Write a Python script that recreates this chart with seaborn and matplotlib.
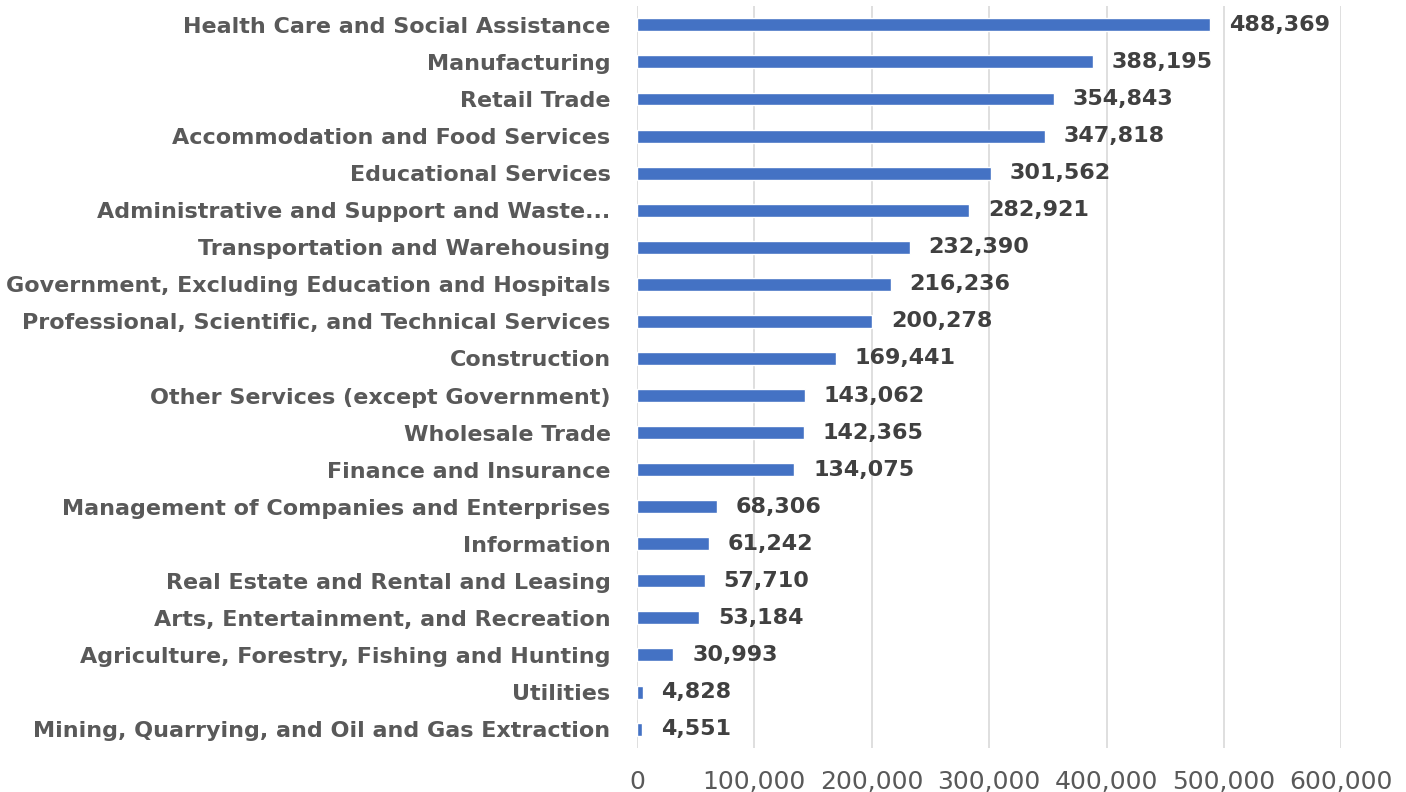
import pandas as pd
import seaborn as sns
import matplotlib.pyplot as plt
from matplotlib.ticker import FuncFormatter

# industries, largest first (top of chart)
industries = [
    "Health Care and Social Assistance",
    "Manufacturing",
    "Retail Trade",
    "Accommodation and Food Services",
    "Educational Services",
    "Administrative and Support and Waste...",
    "Transportation and Warehousing",
    "Government, Excluding Education and Hospitals",
    "Professional, Scientific, and Technical Services",
    "Construction",
    "Other Services (except Government)",
    "Wholesale Trade",
    "Finance and Insurance",
    "Management of Companies and Enterprises",
    "Information",
    "Real Estate and Rental and Leasing",
    "Arts, Entertainment, and Recreation",
    "Agriculture, Forestry, Fishing and Hunting",
    "Utilities",
    "Mining, Quarrying, and Oil and Gas Extraction",
]
employees = [488369, 388195, 354843, 347818, 301562, 282921, 232390, 216236,
             200278, 169441, 143062, 142365, 134075, 68306, 61242, 57710,
             53184, 30993, 4828, 4551]
x_ticks = [0, 100000, 200000, 300000, 400000, 500000, 600000]

df = pd.DataFrame({"industry": industries, "employees": employees})

sns.set_style("white")
plt.rcParams["font.family"] = ["DejaVu Sans"]

fig = plt.figure(figsize=(14.06, 7.92), dpi=100)
ax = fig.add_axes([0.453, 0.056, 0.501, 0.936])

sns.barplot(data=df, y="industry", x="employees", color="#4472C4",
            width=0.35, saturation=1, ax=ax)

# data labels
for i, v in enumerate(employees):
    ax.text(v + 16000, i, f"{v:,}", va="center", ha="left",
            fontsize=16, fontweight="bold", color="#404040")

ax.set_xlim(0, 600000)
ax.set_xticks(x_ticks)
ax.xaxis.set_major_formatter(FuncFormatter(lambda v, p: f"{int(v):,}"))
ax.grid(axis="x", color="#D9D9D9", linewidth=1.2)
ax.set_axisbelow(True)
sns.despine(ax=ax, left=True, bottom=True)
ax.set_xlabel("")
ax.set_ylabel("")
ax.tick_params(axis="y", labelsize=16, labelcolor="#595959", length=0, pad=19)
ax.tick_params(axis="x", labelsize=18, labelcolor="#595959", length=0, pad=16)
for lbl in ax.get_yticklabels():
    lbl.set_fontweight("bold")

fig.savefig("out.png", dpi=100)
